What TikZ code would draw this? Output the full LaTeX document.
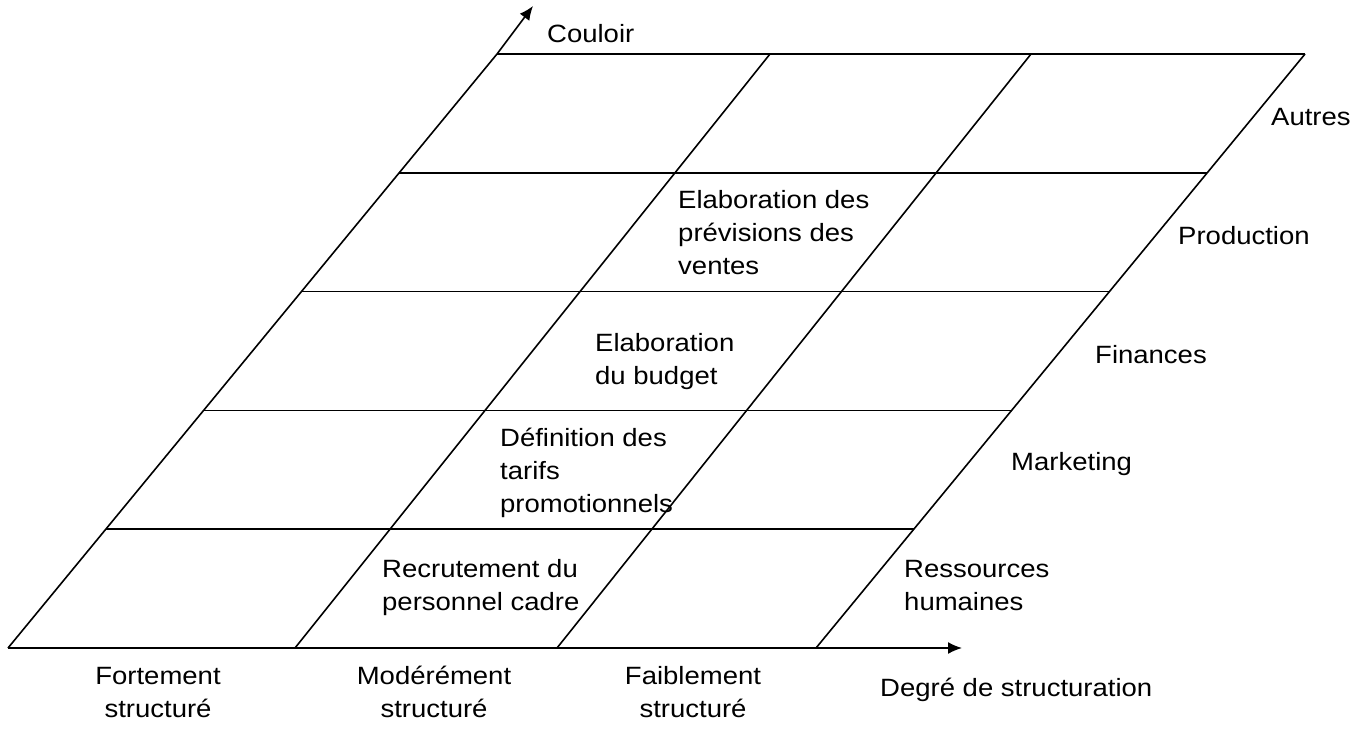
\documentclass[tikz,border=0pt]{standalone}
\usepackage{fontspec}
\setmainfont{Liberation Sans}[FakeStretch=1.1]
\usetikzlibrary{calc,arrows.meta}
\begin{document}
\begin{tikzpicture}[x=1pt,y=-1pt,
  gridline/.style={line width=1.6pt,black},
  axis/.style={line width=1.6pt,black,-{Latex[length=14pt,width=12pt]}},
  lbl/.style={anchor=base west,inner sep=0pt,align=left,font=\fontsize{25}{33}\selectfont},
  clbl/.style={anchor=base,inner sep=0pt,align=center,font=\fontsize{25}{33}\selectfont}]
\useasboundingbox (0,0) rectangle (1364,729);
% grid corners
\coordinate (B0) at (8,648);
\coordinate (B1) at (295,648);
\coordinate (B2) at (557,648);
\coordinate (B3) at (816,648);
\coordinate (T0) at (497,54);
\coordinate (T1) at (770,54);
\coordinate (T2) at (1031,54);
\coordinate (T3) at (1305,54);
\coordinate (Xend) at (962,648);
\coordinate (Yend) at (533,6);
% horizontal lines
\foreach \i in {0,...,5}{
  \draw[gridline] ($(B0)!\i/5!(T0)$) -- ($(B3)!\i/5!(T3)$);
}
% slanted lines
\draw[gridline] (B0) -- (T0);
\draw[gridline] (B1) -- (T1);
\draw[gridline] (B2) -- (T2);
\draw[gridline] (B3) -- (T3);
% axes
\draw[axis] (B3) -- (Xend);
\draw[axis] (T0) -- (Yend);
% labels (anchor = baseline of last line)
\node[lbl] (couloir) at (547,42) {Couloir};
\node[lbl] (autres) at (1271,125) {Autres};
\node[lbl] (production) at (1178,244) {Production};
\node[lbl] (finances) at (1095,363) {Finances};
\node[lbl] (marketing) at (1011,470) {Marketing};
\node[lbl] (rh) at (904,610) {Ressources\\humaines};
\node[lbl] (prev) at (678,274) {Elaboration des\\prévisions des\\ventes};
\node[lbl] (budget) at (595,384) {Elaboration\\du budget};
\node[lbl] (tarifs) at (500,512) {Définition des\\tarifs\\promotionnels};
\node[lbl] (recr) at (382,610) {Recrutement du\\personnel cadre};
\node[clbl] (fort) at (158,717) {Fortement\\structuré};
\node[clbl] (mod) at (434,717) {Modérément\\structuré};
\node[clbl] (faib) at (693,717) {Faiblement\\structuré};
\node[lbl] (degre) at (880,696) {Degré de structuration};
\end{tikzpicture}
\end{document}
